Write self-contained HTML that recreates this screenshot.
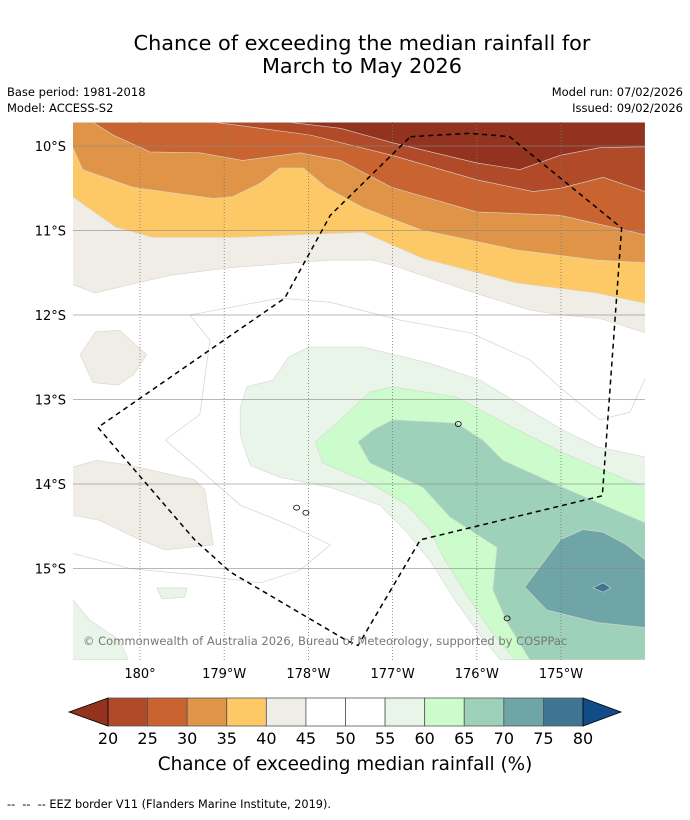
<!DOCTYPE html>
<html><head><meta charset="utf-8"><style>
body{margin:0;background:#fff;width:690px;height:816px;overflow:hidden;font-family:"DejaVu Sans","Liberation Sans",sans-serif;}
svg text{font-family:"DejaVu Sans","Liberation Sans",sans-serif;}
</style></head><body>
<svg id="chart" width="690" height="816" xmlns="http://www.w3.org/2000/svg">
<rect width="690" height="816" fill="#fff"/>
<text x="362" y="50" font-size="20.8" text-anchor="middle" fill="#000">Chance of exceeding the median rainfall for</text>
<text x="362" y="73" font-size="20.8" text-anchor="middle" fill="#000">March to May 2026</text>
<text x="7" y="96" font-size="11.5">Base period: 1981-2018</text>
<text x="7" y="112" font-size="11.5">Model: ACCESS-S2</text>
<text x="683" y="96" font-size="11.5" text-anchor="end">Model run: 07/02/2026</text>
<text x="683" y="112" font-size="11.5" text-anchor="end">Issued: 09/02/2026</text>
<defs><clipPath id="mapclip"><rect x="73" y="122" width="572" height="538"/></clipPath></defs>
<g id="map" clip-path="url(#mapclip)"><rect x="73" y="122" width="572" height="538" fill="#fff"/></g>
<g id="axes"></g>
<g id="cbar"></g>
<text x="345" y="770" font-size="18.4" text-anchor="middle">Chance of exceeding median rainfall (%)</text>
<text x="7" y="808" font-size="11.3" xml:space="preserve">--  --  -- EEZ border V11 (Flanders Marine Institute, 2019).</text>
</svg>
<script>
const NS='http://www.w3.org/2000/svg';
const lonTicks=[180,181,182,183,184,185];
const lonLabels=['180°','179°W','178°W','177°W','176°W','175°W'];
const latTicks=[10,11,12,13,14,15];
const latLabels=['10°S','11°S','12°S','13°S','14°S','15°S'];
const cbLevels=[20,25,30,35,40,45,50,55,60,65,70,75,80];
const cbColors=['#b04a28','#c96430','#e09448','#fdc966','#f0ece6','#ffffff','#ffffff','#eaf5ea','#ccfccc','#9dd1b9','#70a5a8','#3f7592'];
const cbLow='#943220', cbHigh='#124c88';
const dry45=[[179.20,11.64],[179.47,11.74],[179.88,11.64],[180.36,11.53],[181.07,11.44],[182.26,11.35],[182.76,11.35],[182.99,11.41],[183.68,11.64],[184.04,11.76],[184.63,11.94],[184.99,12.0],[185.46,12.04],[186.0,12.21]];
const dry40=[[179.20,10.60],[179.71,10.96],[180.15,11.08],[181.14,11.08],[182.65,11.02],[183.36,11.33],[184.47,11.62],[185.42,11.74],[186.0,11.86]];
const dry35=[[179.20,10.01],[179.32,10.28],[179.92,10.49],[180.87,10.62],[181.10,10.60],[181.43,10.44],[181.66,10.26],[181.94,10.26],[182.21,10.49],[182.65,10.73],[183.33,10.99],[184.47,11.23],[185.42,11.35],[186.0,11.38]];
const dry30=[[179.44,9.72],[179.68,9.87],[180.12,10.07],[180.71,10.08],[181.22,10.17],[181.90,10.08],[182.38,10.17],[182.99,10.49],[184.0,10.78],[184.99,10.82],[186.0,11.05]];
const dry25=[[180.89,9.72],[181.43,9.79],[182.02,9.87],[182.99,10.11],[184.0,10.40],[184.67,10.54],[184.99,10.50],[185.50,10.37],[186.0,10.54]];
const dry20=[[181.78,9.72],[182.38,9.79],[182.99,9.96],[184.0,10.20],[184.51,10.28],[184.99,10.11],[185.46,10.02],[186.0,10.01]];
const beigeBlob1=[[179.29,12.47],[179.47,12.20],[179.76,12.18],[180.08,12.47],[179.92,12.71],[179.74,12.83],[179.44,12.80]];
const beigeBlob2=[[179.20,13.80],[179.49,13.72],[179.88,13.78],[180.65,13.95],[180.77,14.07],[180.87,14.72],[180.30,14.78],[180.0,14.66],[179.52,14.43],[179.20,14.37]];
const wet55=[[181.58,12.77],[181.76,12.50],[182.0,12.38],[182.65,12.38],[183.44,12.57],[184.04,12.77],[184.43,13.01],[185.02,13.36],[185.43,13.56],[186.0,13.68],[186.0,16.08],[184.28,16.08],[184.04,15.79],[183.74,15.37],[183.44,14.90],[183.17,14.57],[182.85,14.25],[182.26,14.04],[181.66,13.92],[181.31,13.78],[181.19,13.42],[181.19,13.10],[181.27,12.85]];
const wet60=[[182.08,13.50],[182.38,13.24],[182.73,12.91],[183.0,12.85],[183.76,12.97],[184.43,13.33],[185.02,13.63],[186.0,14.04],[186.0,16.08],[184.45,16.08],[184.16,15.73],[183.84,15.25],[183.60,14.86],[183.44,14.54],[183.17,14.25],[182.73,13.99],[182.17,13.75]];
const wet65=[[182.59,13.50],[182.77,13.36],[183.0,13.24],[183.76,13.28],[184.07,13.48],[184.31,13.72],[185.02,14.04],[186.0,14.46],[186.0,16.08],[184.63,16.08],[184.36,15.64],[184.19,15.25],[184.24,14.75],[183.68,14.39],[183.36,14.04],[182.73,13.75]];
const wet70=[[184.57,15.22],[184.99,14.66],[185.26,14.54],[185.50,14.57],[185.78,14.72],[186.0,14.90],[186.0,15.70],[185.43,15.64],[184.83,15.49]];
const wet75=[[185.38,15.23],[185.50,15.17],[185.59,15.23],[185.50,15.28]];
const greenBlob1=[[180.20,15.23],[180.56,15.23],[180.53,15.34],[180.26,15.36]];
const greenBlob2=[[179.20,15.37],[179.40,15.61],[179.76,15.85],[179.86,16.08],[179.20,16.08]];
const line50a=[[180.59,12.0],[181.66,11.80],[182.26,11.85],[183.09,12.06],[183.92,12.21],[184.63,12.53],[184.99,12.86],[185.46,13.24],[185.82,13.15],[186.0,12.75]];
const line50b=[[179.20,14.82],[179.88,15.0],[180.71,15.08],[181.43,15.17],[181.90,15.02],[182.26,14.72],[181.78,14.49],[181.19,14.25],[180.71,13.83],[180.30,13.48],[180.71,13.18],[180.83,12.30],[180.59,12.0]];
const eez=[[183.21,9.89],[183.92,9.85],[184.39,9.89],[185.72,10.97],[185.49,14.14],[183.33,14.66],[182.59,15.91],[182.45,15.85],[181.07,15.04],[180.65,14.66],[179.50,13.33],[181.72,11.80],[182.26,10.82],[183.21,9.89]];
const islands=[[183.78,13.29],[181.86,14.28],[181.97,14.34],[184.36,15.59]];

const X=lon=>140+(lon-180)*84.2;
const Y=lat=>146+(lat-10)*84.5;
const TOPLAT=9.72, LEFT=179.20, RIGHT=186.0;
const map=document.getElementById('map');
const axes=document.getElementById('axes');
const cbar=document.getElementById('cbar');
function pts(a){return a.map(p=>X(p[0]).toFixed(1)+','+Y(p[1]).toFixed(1)).join(' ');}
function fillPoly(arr,color,name,closeTop){
  let a=arr.slice();
  if(closeTop){a.push([RIGHT,TOPLAT]);a.push([LEFT,TOPLAT]);}
  const p=document.createElementNS(NS,'polygon');
  p.setAttribute('points',pts(a));
  p.setAttribute('fill',color);
  p.setAttribute('stroke','#d6d6d0');p.setAttribute('stroke-width','0.6');
  
  
  map.appendChild(p);
}
fillPoly(dry45,'#f0ece6','contour-below-45',true);
fillPoly(dry40,'#fdc966','contour-below-40',true);
fillPoly(dry35,'#e09448','contour-below-35',true);
fillPoly(dry30,'#c96430','contour-below-30',true);
fillPoly(dry25,'#b04a28','contour-below-25',true);
fillPoly(dry20,'#943220','contour-below-20',true);
fillPoly(beigeBlob1,'#f0ece6','contour-patch-40-45',false);
fillPoly(beigeBlob2,'#f0ece6','contour-patch-40-45',false);
fillPoly(wet55,'#eaf5ea','contour-above-55',false);
fillPoly(wet60,'#ccfccc','contour-above-60',false);
fillPoly(wet65,'#9dd1b9','contour-above-65',false);
fillPoly(wet70,'#70a5a8','contour-above-70',false);
fillPoly(wet75,'#3f7592','contour-above-75',false);
fillPoly(greenBlob1,'#eaf5ea','contour-patch-55-60',false);
fillPoly(greenBlob2,'#eaf5ea','contour-patch-55-60',false);
[line50a,line50b].forEach(l=>{
  const p=document.createElementNS(NS,'polyline');
  p.setAttribute('points',pts(l));p.setAttribute('fill','none');
  p.setAttribute('stroke','#d8d8d8');p.setAttribute('stroke-width','0.8');
  
  
  map.appendChild(p);
});
lonTicks.forEach((t,i)=>{
  const l=document.createElementNS(NS,'line');
  l.setAttribute('x1',X(t));l.setAttribute('x2',X(t));l.setAttribute('y1',122);l.setAttribute('y2',660);
  l.setAttribute('stroke','#777');l.setAttribute('stroke-width','0.8');l.setAttribute('stroke-dasharray','1,2');
  
  
  map.appendChild(l);
  const tx=document.createElementNS(NS,'text');
  tx.setAttribute('x',X(t));tx.setAttribute('y',678);tx.setAttribute('font-size','13');tx.setAttribute('text-anchor','middle');
  tx.textContent=lonLabels[i];
  
  
  axes.appendChild(tx);
});
latTicks.forEach((t,i)=>{
  const l=document.createElementNS(NS,'line');
  l.setAttribute('x1',73);l.setAttribute('x2',645);l.setAttribute('y1',Y(t));l.setAttribute('y2',Y(t));
  l.setAttribute('stroke','#888');l.setAttribute('stroke-opacity','0.6');l.setAttribute('stroke-width','1');
  
  
  map.appendChild(l);
  const tx=document.createElementNS(NS,'text');
  tx.setAttribute('x',66);tx.setAttribute('y',Y(t)+5);tx.setAttribute('font-size','13');tx.setAttribute('text-anchor','end');
  tx.textContent=latLabels[i];
  
  
  axes.appendChild(tx);
});
islands.forEach(p=>{
  const e=document.createElementNS(NS,'ellipse');
  e.setAttribute('cx',X(p[0]));e.setAttribute('cy',Y(p[1]));e.setAttribute('rx',3);e.setAttribute('ry',2.5);
  e.setAttribute('fill','none');e.setAttribute('stroke','#000');e.setAttribute('stroke-width','0.8');
  
  
  map.appendChild(e);
});
const ez=document.createElementNS(NS,'polyline');
ez.setAttribute('points',pts(eez));ez.setAttribute('fill','none');ez.setAttribute('stroke','#000');
ez.setAttribute('stroke-width','1.5');ez.setAttribute('stroke-dasharray','5,4');


map.appendChild(ez);
const cp=document.createElementNS(NS,'text');
cp.setAttribute('x',83);cp.setAttribute('y',645);cp.setAttribute('font-size','11.5');cp.setAttribute('fill','#777');
cp.textContent='© Commonwealth of Australia 2026, Bureau of Meteorology, supported by COSPPac';


map.appendChild(cp);
const cbX0=108,cbX1=583,cbY0=698,cbY1=726,cbW=(cbX1-cbX0)/cbColors.length;
cbColors.forEach((c,i)=>{
  const r=document.createElementNS(NS,'rect');
  r.setAttribute('x',cbX0+i*cbW);r.setAttribute('y',cbY0);r.setAttribute('width',cbW);r.setAttribute('height',cbY1-cbY0);
  r.setAttribute('fill',c);r.setAttribute('stroke','#555');r.setAttribute('stroke-width','0.8');
  
  
  cbar.appendChild(r);
});
const tl=document.createElementNS(NS,'polygon');
tl.setAttribute('points',`${cbX0},${cbY0} 69,${(cbY0+cbY1)/2} ${cbX0},${cbY1}`);tl.setAttribute('fill',cbLow);tl.setAttribute('stroke','#000');tl.setAttribute('stroke-width','0.8');


cbar.appendChild(tl);
const tr=document.createElementNS(NS,'polygon');
tr.setAttribute('points',`${cbX1},${cbY0} 621,${(cbY0+cbY1)/2} ${cbX1},${cbY1}`);tr.setAttribute('fill',cbHigh);tr.setAttribute('stroke','#000');tr.setAttribute('stroke-width','0.8');


cbar.appendChild(tr);
cbLevels.forEach((v,i)=>{
  const tx=document.createElementNS(NS,'text');
  tx.setAttribute('x',cbX0+i*cbW);tx.setAttribute('y',744);tx.setAttribute('font-size','16');tx.setAttribute('text-anchor','middle');
  tx.textContent=v;
  
  
  cbar.appendChild(tx);
});
</script>
</body></html>
